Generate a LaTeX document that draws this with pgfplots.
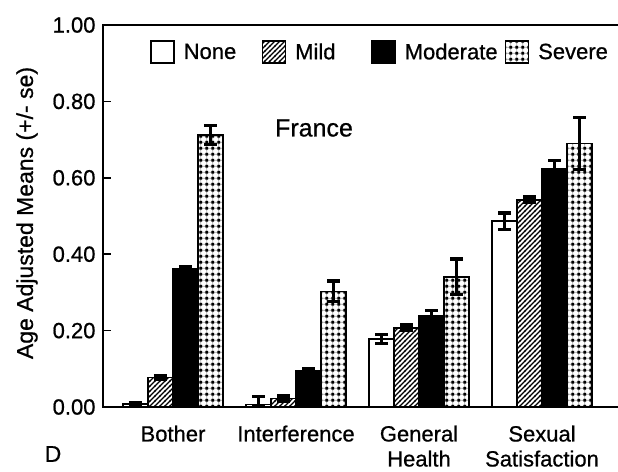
\documentclass[border=0pt]{standalone}
\usepackage{pgfplots}
\pgfplotsset{compat=1.18}
\usepackage{pgfplotstable}
\usepackage{fontspec}
\setmainfont[FakeBold=0.7]{Liberation Sans}
\usetikzlibrary{patterns}

% diagonal hatching for "Mild"
\pgfdeclarepatternformonly{hatchNE}{\pgfqpoint{-1pt}{-1pt}}{\pgfqpoint{6pt}{6pt}}{\pgfqpoint{5pt}{5pt}}{%
  \pgfsetlinewidth{1.2pt}%
  \pgfpathmoveto{\pgfqpoint{-0.5pt}{-0.5pt}}%
  \pgfpathlineto{\pgfqpoint{5.5pt}{5.5pt}}%
  \pgfusepath{stroke}}
% square dot grid with faint grey lines for "Severe"
\pgfdeclarepatterninherentlycolored{bigdots}{\pgfpointorigin}{\pgfqpoint{6.2pt}{6.2pt}}{\pgfqpoint{6.2pt}{6.2pt}}{%
  \pgfsetfillcolor{white}%
  \pgfpathrectangle{\pgfpointorigin}{\pgfqpoint{6.2pt}{6.2pt}}%
  \pgfusepath{fill}%
  \pgfsetstrokecolor{black!45}%
  \pgfsetlinewidth{0.9pt}%
  \pgfpathmoveto{\pgfqpoint{0pt}{3.1pt}}\pgfpathlineto{\pgfqpoint{6.2pt}{3.1pt}}%
  \pgfpathmoveto{\pgfqpoint{3.1pt}{0pt}}\pgfpathlineto{\pgfqpoint{3.1pt}{6.2pt}}%
  \pgfusepath{stroke}%
  \pgfsetfillcolor{black}%
  \pgfpathrectangle{\pgfqpoint{1.6pt}{1.6pt}}{\pgfqpoint{3pt}{3pt}}%
  \pgfusepath{fill}}

% x = domain (0 Bother, 1 Interference, 2 General Health, 3 Sexual Satisfaction)
\pgfplotstableread{
x y     ep    em
0 0.008 0.003 0.003
1 0.006 0.022 0.006
2 0.178 0.012 0.012
3 0.487 0.021 0.022
}\tNone
\pgfplotstableread{
x y     ep    em
0 0.077 0.004 0.004
1 0.022 0.007 0.007
2 0.207 0.007 0.007
3 0.542 0.007 0.007
}\tMild
\pgfplotstableread{
x y     ep    em
0 0.362 0.004 0.004
1 0.095 0.004 0.004
2 0.240 0.013 0.013
3 0.625 0.020 0.020
}\tModerate
\pgfplotstableread{
x y     ep    em
0 0.712 0.025 0.025
1 0.303 0.027 0.027
2 0.340 0.048 0.045
3 0.690 0.068 0.068
}\tSevere

\pgfplotsset{
  boxleg/.style={legend image code/.code={%
    \draw[##1, line width=1.5pt] (0pt,-11pt) rectangle (23pt,11pt);}},
}

\begin{document}
\begin{tikzpicture}
\begin{axis}[
  scale only axis, width=517pt, height=382pt,
  xmin=-0.569, xmax=3.634, ymin=0, ymax=1,
  ybar=0pt, bar width=25pt,
  xtick={0,1,2,3},
  xticklabels={Bother, Interference, {General\\Health}, {Sexual\\Satisfaction}},
  xtick style={draw=none},
  xticklabel style={align=center, font=\fontsize{22}{25}\selectfont, yshift=-15pt},
  ytick={0,0.2,0.4,0.6,0.8,1}, ytick pos=left,
  yticklabel style={font=\fontsize{22}{25}\selectfont, xshift=-4pt,
    /pgf/number format/.cd, fixed, fixed zerofill, precision=2, assume math mode=true},
  tick align=inside, major tick length=8pt,
  ytick style={line width=1.6pt, black},
  axis line style={line width=1.6pt},
  error bars/y dir=both, error bars/y explicit,
  error bars/error bar style={line width=3pt, black},
  error bars/error mark options={rotate=90, mark size=6.5pt, line width=3.6pt, black},
  legend columns=4,
  legend style={at={(rel axis cs:0.0909,0.929)}, anchor=west, draw=none, fill=none,
    inner xsep=0pt, inner ysep=0pt,
    font=\fontsize{22}{26}\selectfont,
    nodes={inner sep=0pt},
    /tikz/every odd column/.append style={column sep=9pt}},
]
\addplot[draw=black, fill=white, line width=1.3pt, boxleg]
  table[x=x, y=y, y error plus=ep, y error minus=em] {\tNone};
\addlegendentry{\makebox[78pt][l]{None}}
\addplot[draw=black, pattern=hatchNE, line width=1.3pt, boxleg]
  table[x=x, y=y, y error plus=ep, y error minus=em] {\tMild};
\addlegendentry{\makebox[76pt][l]{Mild}}
\addplot[draw=black, fill=black, line width=1.3pt, boxleg]
  table[x=x, y=y, y error plus=ep, y error minus=em] {\tModerate};
\addlegendentry{\makebox[100pt][l]{Moderate}}
\addplot[draw=black, pattern=bigdots, line width=1.3pt, boxleg]
  table[x=x, y=y, y error plus=ep, y error minus=em] {\tSevere};
\addlegendentry{Severe}
\coordinate (bl) at (rel axis cs:0,0);
\end{axis}
\node[font=\fontsize{25}{28}\selectfont] at ([shift={(211pt,279pt)}]bl) {France};
\node[font=\fontsize{23}{26}\selectfont] at ([shift={(-50pt,-47pt)}]bl) {D};
\node[font=\fontsize{23}{26}\selectfont, rotate=90] at ([shift={(-76pt,194pt)}]bl) {Age Adjusted Means (+/- se)};
\pgfresetboundingbox
\path[use as bounding box] (bl) ++(-103pt,-64pt) rectangle ++(618pt,471pt);
\end{tikzpicture}
\end{document}
